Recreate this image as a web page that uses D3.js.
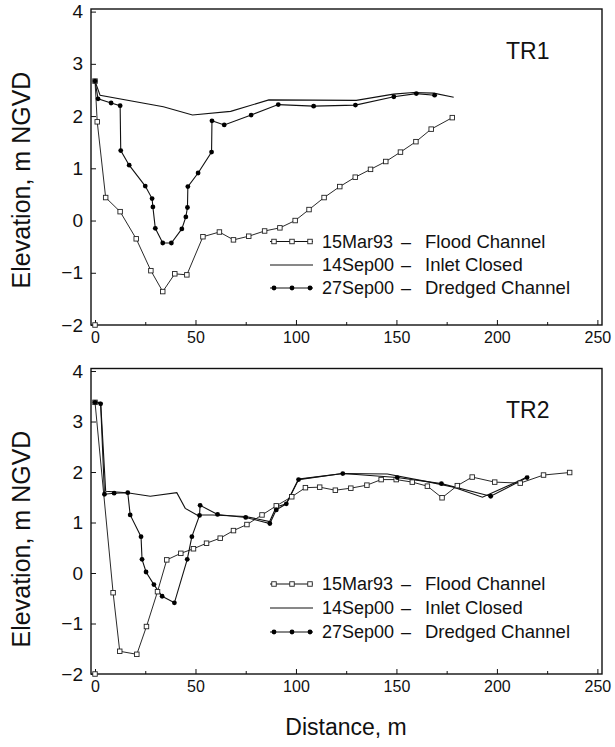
<!DOCTYPE html>
<html><head><meta charset="utf-8">
<script src="https://cdn.jsdelivr.net/npm/d3@7"></script>
<style>
html,body{margin:0;padding:0;background:#fff;}
svg text{font-family:'Liberation Sans',Arial,Helvetica,sans-serif;fill:#111;}
</style></head>
<body><svg id="c" width="615" height="747"></svg>
<script>
// ---------- data ----------
const xTicks = [0, 50, 100, 150, 200, 250];
const xMinorTicks = [25, 75, 125, 175, 225];
const yTicks = [-2, -1, 0, 1, 2, 3, 4];
const panelNames = ["TR1", "TR2"];
const seriesDates = ["15Mar93", "14Sep00", "27Sep00"];
const seriesNotes = ["Flood Channel", "Inlet Closed", "Dredged Channel"];

// TR1
const floodTopX = [0, 1.1, 5.3, 12.5, 20.5, 27.8, 33.7, 39.7, 45.7, 53.7, 61.9, 68.9, 76.5, 84.4, 92, 99.6, 106.5, 114, 121.8, 129.5, 137.1, 144.7, 152, 159.7, 167.3, 177.8];
const floodTopY = [2.67, 1.89, 0.44, 0.17, -0.35, -0.96, -1.36, -1.02, -1.04, -0.31, -0.22, -0.37, -0.30, -0.20, -0.14, 0.00, 0.21, 0.44, 0.65, 0.83, 0.98, 1.13, 1.31, 1.51, 1.75, 1.97];
const closedTopX = [0, 2.5, 34, 48.5, 67.5, 86.5, 130, 148.5, 158.5, 168.5, 178.5];
const closedTopY = [2.67, 2.40, 2.18, 2.02, 2.09, 2.31, 2.30, 2.42, 2.45, 2.44, 2.36];
const dredgedTopX = [0, 1.5, 8, 12.5, 12.8, 17, 25, 28.4, 28.8, 30, 33.7, 38, 43.2, 45.2, 46, 46.2, 51.3, 58, 58.2, 64.3, 77.7, 91.2, 108.8, 129.6, 148.7, 159.9, 169];
const dredgedTopY = [2.67, 2.33, 2.25, 2.20, 1.34, 1.06, 0.66, 0.42, 0.26, -0.15, -0.43, -0.43, -0.16, 0.07, 0.25, 0.65, 0.91, 1.31, 1.91, 1.83, 2.02, 2.22, 2.19, 2.21, 2.37, 2.43, 2.40];

// TR2
const floodBotX = [0, 9, 12.3, 20.8, 25.6, 31.1, 35.7, 42.7, 49, 55.5, 62.3, 68.9, 75.6, 83.1, 90.2, 97.9, 104.7, 111.8, 119.6, 127.3, 135.3, 142.4, 149.9, 157.9, 165.4, 172.7, 180.3, 187.7, 198.9, 211.6, 223.2, 236.2];
const floodBotY = [3.38, -0.39, -1.55, -1.61, -1.06, -0.37, 0.26, 0.39, 0.48, 0.59, 0.69, 0.84, 0.96, 1.15, 1.33, 1.51, 1.69, 1.70, 1.64, 1.68, 1.74, 1.85, 1.85, 1.80, 1.72, 1.49, 1.73, 1.90, 1.80, 1.78, 1.94, 1.99];
const closedBotX = [0, 2.8, 5.3, 16, 27.5, 40.7, 44.9, 50.7, 58.5, 74.9, 86.9, 90.2, 95.2, 101.3, 123.3, 145.5, 165.3, 178.5, 192.8, 211.9, 216];
const closedBotY = [3.38, 3.38, 1.62, 1.59, 1.52, 1.59, 1.28, 1.15, 1.15, 1.12, 1.02, 1.31, 1.37, 1.86, 1.97, 1.96, 1.81, 1.70, 1.50, 1.84, 1.92];
const dredgedBotX = [0, 2.8, 4.7, 9.5, 16.3, 17.5, 22.9, 23.4, 25.4, 29.3, 33.4, 39.5, 45.9, 48.2, 52, 52.3, 61, 75, 87, 90.2, 95.2, 101.3, 123.3, 150.4, 172.4, 196.9, 215];
const dredgedBotY = [3.38, 3.35, 1.56, 1.58, 1.59, 1.15, 0.72, 0.27, 0.02, -0.23, -0.46, -0.59, 0.27, 0.72, 1.14, 1.34, 1.16, 1.10, 0.98, 1.25, 1.37, 1.85, 1.97, 1.89, 1.77, 1.52, 1.89];

// lone marker at the lower-left corner of each panel
const strayX = [0];
const strayY = [-2];

// ---------- drawing ----------
const svg = d3.select("#c");
const zip = (xs, ys) => xs.map((x, i) => [x, ys[i]]);

const x = d3.scaleLinear().domain([-2, 252.3]).range([91, 602]);

const panels = [
  {name: panelNames[0], y: d3.scaleLinear().domain([-2, 4.05]).range([325, 9]),
   flood: zip(floodTopX, floodTopY), closed: zip(closedTopX, closedTopY), dredged: zip(dredgedTopX, dredgedTopY),
   legendY: [241.5, 265, 288], labelY: 180, titleY: 59},
  {name: panelNames[1], y: d3.scaleLinear().domain([-2, 4.05]).range([674, 368.5]),
   flood: zip(floodBotX, floodBotY), closed: zip(closedBotX, closedBotY), dredged: zip(dredgedBotX, dredgedBotY),
   legendY: [584, 608, 632], labelY: 539, titleY: 418}
];

function square(g, pts, xs, ys, s) {
  g.selectAll(null).data(pts).enter().append("rect")
    .attr("x", d => xs(d[0]) - s / 2).attr("y", d => ys(d[1]) - s / 2)
    .attr("width", s).attr("height", s)
    .attr("fill", "#fff").attr("stroke", "#222").attr("stroke-width", 0.9);
}
function dots(g, pts, xs, ys, r) {
  g.selectAll(null).data(pts).enter().append("circle")
    .attr("cx", d => xs(d[0])).attr("cy", d => ys(d[1])).attr("r", r)
    .attr("fill", "#000");
}

panels.forEach(p => {
  const y = p.y;
  const g = svg.append("g");
  const [y0, y1] = y.range();

  // axes
  const ax = g.append("g").attr("transform", `translate(0,${y0})`)
    .call(d3.axisBottom(x).tickValues(xTicks).tickSize(-5).tickPadding(7).tickFormat(d3.format("d")));
  ax.select(".domain").remove();
  ax.selectAll("text").attr("font-size", 16);
  const axm = g.append("g").attr("transform", `translate(0,${y0})`)
    .call(d3.axisBottom(x).tickValues(xMinorTicks).tickSize(-3).tickFormat(""));
  axm.select(".domain").remove();

  const ay = g.append("g").attr("transform", `translate(${x.range()[0]},0)`)
    .call(d3.axisLeft(y).tickValues(yTicks).tickSize(-5).tickPadding(8).tickFormat(d3.format("d")));
  ay.select(".domain").remove();
  ay.selectAll("text").attr("font-size", 19);
  g.selectAll(".tick line").attr("stroke", "#111");

  // frame
  g.append("rect").attr("x", x.range()[0]).attr("y", y1)
    .attr("width", x.range()[1] - x.range()[0]).attr("height", y0 - y1)
    .attr("fill", "none").attr("stroke", "#111").attr("stroke-width", 1.4);

  const line = d3.line().x(d => x(d[0])).y(d => y(d[1]));
  g.append("path").attr("d", line(p.closed)).attr("fill", "none").attr("stroke", "#111").attr("stroke-width", 1.1);
  g.append("path").attr("d", line(p.flood)).attr("fill", "none").attr("stroke", "#111").attr("stroke-width", 0.9);
  g.append("path").attr("d", line(p.dredged)).attr("fill", "none").attr("stroke", "#111").attr("stroke-width", 1.1);
  square(g, p.flood, x, y, 4.5);
  square(g, zip(strayX, strayY), x, y, 4.5);
  dots(g, p.dredged, x, y, 2.4);

  // panel title
  g.append("text").attr("x", 506).attr("y", p.titleY).attr("font-size", 23).text(p.name);

  // y label
  g.append("text").attr("transform", `translate(30,${p.labelY}) rotate(-90)`)
    .attr("text-anchor", "middle").attr("font-size", 25).text("Elevation,  m  NGVD");

  // legend
  const lx = [270, 313], mk = [274, 292, 310];
  p.legendY.forEach((ly, i) => {
    g.append("line").attr("x1", lx[0]).attr("x2", lx[1]).attr("y1", ly).attr("y2", ly)
      .attr("stroke", "#111").attr("stroke-width", 1);
    const pts = mk.map(m => [x.invert(m), y.invert(ly)]);
    if (i === 0) square(g, pts, x, y, 4.5);
    if (i === 2) dots(g, pts, x, y, 2.4);
    g.append("text").attr("x", 322).attr("y", ly).attr("dy", "0.35em").attr("font-size", 18).text(seriesDates[i]);
    g.append("text").attr("x", 406).attr("y", ly).attr("dy", "0.35em").attr("text-anchor", "middle").attr("font-size", 18).text("–");
    g.append("text").attr("x", 425).attr("y", ly).attr("dy", "0.35em").attr("font-size", 18.5).text(seriesNotes[i]);
  });
});

svg.append("text").attr("x", 346).attr("y", 727).attr("dy", "0.35em")
  .attr("text-anchor", "middle").attr("font-size", 23).text("Distance,  m");
</script></body></html>
